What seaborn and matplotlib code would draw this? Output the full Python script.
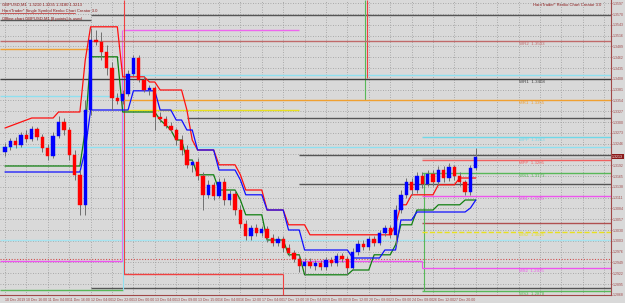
import matplotlib
matplotlib.use("Agg")
import matplotlib.pyplot as plt
import numpy as np
import pandas as pd
import seaborn as sns

sns.set_theme(style="white")
plt.rcParams['font.family'] = ['Liberation Sans', 'DejaVu Sans']

# ---------------- data ----------------
opens = [1.3225,1.3238,1.3253,1.3243,1.3268,1.3258,1.3283,1.3263,1.3235,1.3215,
         1.3265,1.3300,1.3280,1.3218,1.3168,1.3093,1.3330,1.3505,1.3500,1.3475,
         1.3435,1.3360,1.3353,1.3370,1.3420,1.3460,1.3405,1.3380,1.3385,1.3313,
         1.3308,1.3290,1.3280,1.3255,1.3230,1.3193,1.3200,1.3165,1.3118,1.3143,
         1.3115,1.3150,1.3105,1.3120,1.3080,1.3045,1.3015,1.3035,1.3023,1.3033,
         1.3010,1.2998,1.3008,1.2985,1.2973,1.2958,1.2940,1.2950,1.2940,1.2948,
         1.2938,1.2955,1.2948,1.2965,1.2958,1.2935,1.2975,1.2995,1.2988,1.3008,
         1.2998,1.3023,1.3035,1.3018,1.3080,1.3118,1.3150,1.3130,1.3165,1.3145,
         1.3170,1.3150,1.3180,1.3160,1.3188,1.3165,1.3150,1.3125,1.3185]
highs = [1.3248,1.3260,1.3263,1.3275,1.3280,1.3290,1.3288,1.3270,1.3245,1.3275,
         1.3315,1.3310,1.3288,1.3230,1.3180,1.3355,1.3535,1.3530,1.3525,1.3493,
         1.3450,1.3373,1.3380,1.3430,1.3468,1.3468,1.3415,1.3393,1.3390,1.3325,
         1.3315,1.3300,1.3285,1.3268,1.3243,1.3205,1.3210,1.3175,1.3155,1.3150,
         1.3160,1.3160,1.3130,1.3130,1.3093,1.3055,1.3043,1.3045,1.3040,1.3040,
         1.3020,1.3015,1.3015,1.2995,1.2980,1.2968,1.2960,1.2960,1.2955,1.2955,
         1.2963,1.2963,1.2973,1.2973,1.2965,1.2985,1.3005,1.3005,1.3015,1.3015,
         1.3030,1.3043,1.3043,1.3093,1.3130,1.3160,1.3160,1.3175,1.3175,1.3180,
         1.3180,1.3190,1.3190,1.3198,1.3193,1.3175,1.3155,1.3193,1.3235]
lows = [1.3215,1.3230,1.3235,1.3238,1.3250,1.3253,1.3255,1.3225,1.3205,1.3210,
        1.3260,1.3268,1.3205,1.3155,1.3068,1.3068,1.3318,1.3493,1.3455,1.3418,
        1.3330,1.3345,1.3345,1.3365,1.3415,1.3400,1.3375,1.3368,1.3280,1.3300,
        1.3285,1.3275,1.3243,1.3218,1.3185,1.3175,1.3155,1.3080,1.3110,1.3105,
        1.3110,1.3093,1.3093,1.3068,1.3035,1.3005,1.3005,1.3015,1.3015,1.3000,
        1.2990,1.2990,1.2975,1.2965,1.2950,1.2925,1.2918,1.2935,1.2930,1.2930,
        1.2930,1.2940,1.2940,1.2950,1.2918,1.2930,1.2968,1.2980,1.2980,1.2990,
        1.2993,1.3015,1.3010,1.2993,1.3073,1.3110,1.3118,1.3123,1.3135,1.3140,
        1.3140,1.3143,1.3150,1.3153,1.3155,1.3140,1.3118,1.3118,1.3180]
closes = [1.3238,1.3253,1.3243,1.3268,1.3258,1.3283,1.3263,1.3235,1.3215,1.3265,
          1.3300,1.3280,1.3218,1.3168,1.3093,1.3330,1.3505,1.3500,1.3475,1.3435,
          1.3360,1.3353,1.3370,1.3420,1.3460,1.3405,1.3380,1.3385,1.3313,1.3308,
          1.3290,1.3280,1.3255,1.3230,1.3193,1.3200,1.3165,1.3118,1.3143,1.3115,
          1.3150,1.3105,1.3120,1.3080,1.3045,1.3015,1.3035,1.3023,1.3033,1.3010,
          1.2998,1.3008,1.2985,1.2973,1.2958,1.2940,1.2950,1.2940,1.2948,1.2938,
          1.2955,1.2948,1.2965,1.2958,1.2935,1.2975,1.2995,1.2988,1.3008,1.2998,
          1.3023,1.3035,1.3018,1.3080,1.3118,1.3150,1.3130,1.3165,1.3145,1.3170,
          1.3150,1.3180,1.3160,1.3188,1.3165,1.3150,1.3125,1.3185,1.3213]

red_band = [1.3285,1.3290,1.3295,1.3300,1.3305,1.3310,1.3310,1.3310,1.3310,1.3310,
            1.3325,1.3325,1.3325,1.3325,1.3325,1.3455,1.3538,1.3538,1.3538,1.3538,
            1.3538,1.3538,1.3413,1.3413,1.3413,1.3413,1.3413,1.3400,1.3400,1.3380,
            1.3380,1.3380,1.3380,1.3380,1.3330,1.3255,1.3230,1.3230,1.3230,1.3230,
            1.3193,1.3193,1.3193,1.3193,1.3168,1.3130,1.3130,1.3130,1.3130,1.3080,
            1.3080,1.3080,1.3080,1.3043,1.3043,1.3043,1.3043,1.3018,1.3018,1.3018,
            1.3018,1.3018,1.3018,1.3018,1.3018,1.3018,1.3018,1.3018,1.3018,1.3018,
            1.3018,1.3018,1.3018,1.3043,1.3093,1.3093,1.3118,1.3118,1.3118,1.3118,
            1.3118,1.3143,1.3143,1.3143,1.3143,1.3160,1.3160,1.3160,1.3160]
green_band = [1.3190,1.3190,1.3190,1.3190,1.3190,1.3190,1.3190,1.3190,1.3190,1.3190,
              1.3190,1.3190,1.3190,1.3190,1.3190,1.3280,1.3463,1.3463,1.3463,1.3463,
              1.3463,1.3463,1.3325,1.3325,1.3325,1.3325,1.3325,1.3325,1.3325,1.3305,
              1.3293,1.3280,1.3255,1.3255,1.3205,1.3205,1.3168,1.3168,1.3168,1.3168,
              1.3130,1.3130,1.3130,1.3130,1.3105,1.3068,1.3068,1.3068,1.3068,1.3005,
              1.3005,1.3005,1.3005,1.2968,1.2968,1.2968,1.2918,1.2918,1.2918,1.2918,
              1.2918,1.2918,1.2918,1.2918,1.2918,1.2930,1.2930,1.2930,1.2930,1.2968,
              1.2968,1.2968,1.2968,1.2993,1.3043,1.3043,1.3043,1.3080,1.3080,1.3080,
              1.3080,1.3093,1.3093,1.3093,1.3093,1.3093,1.3105,1.3105,1.3105]
blue_band = [1.3175,1.3175,1.3175,1.3175,1.3175,1.3175,1.3175,1.3175,1.3175,1.3175,
             1.3175,1.3175,1.3175,1.3175,1.3175,1.3230,1.3330,1.3330,1.3330,1.3330,
             1.3330,1.3330,1.3330,1.3330,1.3378,1.3378,1.3378,1.3378,1.3378,1.3330,
             1.3330,1.3330,1.3305,1.3305,1.3280,1.3280,1.3230,1.3230,1.3230,1.3230,
             1.3180,1.3180,1.3180,1.3180,1.3155,1.3118,1.3118,1.3118,1.3118,1.3080,
             1.3080,1.3080,1.3080,1.3030,1.3030,1.3030,1.2980,1.2980,1.2980,1.2980,
             1.2980,1.2980,1.2980,1.2980,1.2980,1.2960,1.2960,1.2960,1.2960,1.2960,
             1.2960,1.2980,1.2980,1.2980,1.3055,1.3055,1.3055,1.3075,1.3075,1.3075,
             1.3075,1.3075,1.3075,1.3075,1.3075,1.3075,1.3075,1.3085,1.3105]

date_labels = ["10 Dec 2019","10 Dec 16:00","11 Dec 04:00","11 Dec 16:00","12 Dec 04:00",
               "12 Dec 22:00","13 Dec 00:00","13 Dec 04:00","13 Dec 09:00","13 Dec 15:00",
               "16 Dec 04:00","16 Dec 12:00","17 Dec 04:00","17 Dec 12:00","18 Dec 04:00",
               "19 Dec 00:00","19 Dec 12:00","20 Dec 08:00","23 Dec 08:00","24 Dec 08:00",
               "26 Dec 12:00","27 Dec 20:00"]
price_ticks = [1.3597 - 0.0027 * k for k in range(28)]

# labelled pivot levels of the current period
pivot_names = ["WR2","WR1","MR1","WPP","MPP","WS1","MS1","WS2","MS2","WS3"]
pivot_values = [1.3503,1.3408,1.3355,1.3263,1.3205,1.3173,1.3115,1.3025,1.2935,1.2878]
pivot_colors = ["#c06a6a","#404040","#f0a030","#6fd8e8","#f06060","#58b858",
                "#ee55ee","#e8e020","#ee55ee","#58b858"]
pivot_starts = [-1, -1, 22, 78, 78, 78, 78, 78, 78, 78]
pivot_styles = ["-","-","-","-","-","-","-","--","-","-"]

# earlier-period levels: price, first bar, last bar, colour
old_prices = [1.3555, 1.3568, 1.3530, 1.2953, 1.2953, 1.2880, 1.3365, 1.3418, 1.3483,
              1.2920, 1.3310, 1.3218, 1.3145, 1.2885, 1.3330, 1.3048, 1.3005, 1.3238,
              1.3210]
old_starts = [-1, 16, 22, -1, 55, -1, -1, 22, -1, 22, 34, 55, 55, 16, 22, 78, -1, -1, 78]
old_ends = [16, 114, 55, 22, 78, 22, 22, 114, 16, 52, 114, 114, 114, 114, 55, 114, 114, 114, 114]
old_colors = ["#555555", "#555555", "#ee66ee", "#ee55ee", "#ee55ee", "#58b858", "#8fe0f0",
              "#8fe0f0", "#f0a030", "#f04040", "#555555", "#555555", "#555555", "#555555",
              "#e8e020", "#b05050", "#a8e4f0", "#8fe0f0", "#c4c4c4"]
dotted_red = 1.2958

last_price = 1.3213

# ---------------- figure ----------------
BG = "#d9d9d9"
fig = plt.figure(figsize=(6.25, 3.03), dpi=100)
fig.patch.set_facecolor(BG)
ax = fig.add_axes([0, 8/303, 611/625, 295/303])
ax.set_facecolor(BG)

n = len(opens)
idx = np.arange(n)
X0, X1 = -0.935, 113.27
ax.set_xlim(X0, X1)
ax.set_ylim(1.28675, 1.3605)

# grid
for t in price_ticks:
    ax.axhline(t, color="#9a9a9a", lw=0.6, ls=(0, (1, 2)), zorder=0)
for gx in range(0, 113, 4):
    ax.axvline(gx, color="#9a9a9a", lw=0.6, ls=(0, (1, 2)), zorder=0)

# earlier-period levels
for p, s, e, col in zip(old_prices, old_starts, old_ends, old_colors):
    ax.hlines(p, max(s, X0), min(e, X1), color=col, lw=1.0, zorder=1)
ax.axhline(dotted_red, color="#d05050", lw=0.8, ls=(0, (1, 1.5)), zorder=1)

# period-change verticals
ax.vlines(21.9, 1.2953, 1.3530, color="#ee66ee", lw=0.8, zorder=1)
ax.vlines(22.1, 1.2880, 1.3418, color="#8fe0f0", lw=0.8, zorder=1)
ax.vlines(22.3, 1.2920, 1.3605, color="#f04040", lw=0.8, zorder=1)
ax.vlines(52, 1.28675, 1.2920, color="#f04040", lw=0.8, zorder=1)
ax.vlines(67.2, 1.3355, 1.3605, color="#58b858", lw=0.8, zorder=1)
ax.vlines(67.6, 1.3410, 1.3605, color="#f04040", lw=0.8, zorder=1)
ax.vlines(78.3, 1.2878, 1.3173, color="#58b858", lw=0.8, zorder=1)
ax.vlines(78.0, 1.2935, 1.2953, color="#ee55ee", lw=0.8, zorder=1)

# labelled pivots
for name, v, c, s, st in zip(pivot_names, pivot_values, pivot_colors, pivot_styles, pivot_starts):
    ax.hlines(v, max(st, X0), X1, color=c, lw=1.0, ls=s, zorder=1)
    ax.text(96.0, v - 0.0002, f"{name}  {v:.4f}", color=c, fontsize=3.2,
            ha="left", va="top", zorder=5)

# indicator lines
bands = pd.DataFrame({"bar": np.concatenate([idx, idx, idx]),
                      "price": np.concatenate([red_band, green_band, blue_band]),
                      "band": ["red"] * n + ["green"] * n + ["blue"] * n})
sns.lineplot(data=bands, x="bar", y="price", hue="band",
             palette={"red": "#ff1010", "green": "#108010", "blue": "#1010ff"},
             linewidth=0.9, legend=False, ax=ax, zorder=3)

# candles
o = np.array(opens); c = np.array(closes)
up = c >= o
ax.vlines(idx, lows, highs, color="#707070", lw=0.7, zorder=4)
ax.bar(idx[up], (c - o)[up], bottom=o[up], width=0.62, color="#0000ff",
       edgecolor="#0000ff", linewidth=0.3, zorder=5)
ax.bar(idx[~up], (o - c)[~up], bottom=c[~up], width=0.62, color="#ff0000",
       edgecolor="#ff0000", linewidth=0.3, zorder=5)

# axes
ax.set_xlabel(""); ax.set_ylabel("")
ax.yaxis.tick_right()
ax.set_yticks(price_ticks)
ylabels = [f"{t:.4f}" if abs(t - last_price) > 0.0012 else "" for t in price_ticks]
ax.set_yticklabels(ylabels, fontsize=2.5, color="#a04848")
ax.set_xticks(range(0, 4 * len(date_labels), 4))
ax.set_xticklabels(date_labels, fontsize=2.5, color="#a04848", ha="left")
ax.tick_params(axis="y", length=1.0, width=0.5, color="#a04848", pad=0.5)
ax.tick_params(axis="x", length=1.5, width=0.5, color="#a04848", pad=0.8)
for side in ["top", "left"]:
    ax.spines[side].set_visible(False)
for side in ["right", "bottom"]:
    ax.spines[side].set_color("#a04848")
    ax.spines[side].set_linewidth(0.8)

ax.text(113.5, last_price, f"{last_price:.4f}", fontsize=2.5, color="white",
        ha="left", va="center", bbox=dict(boxstyle="square,pad=0.2", fc="#8b1a1a", ec="none"),
        clip_on=False, zorder=6)

fig.text(0.004, 0.99, "GBPUSD,M1  1.3210 1.3235 1.3180 1.3213", fontsize=3.0, color="#8b1a1a", va="top")
fig.text(0.004, 0.97, "HarriTrader* Single Symbol Renko Chart Creator 3.0", fontsize=3.0, color="#8b1a1a", va="top")
fig.add_artist(plt.Line2D([0.0, 0.12], [0.957, 0.957], color="#c04040", lw=0.6))
fig.text(0.004, 0.945, "Offline chart GBPUSD,M1 [8 points] is used", fontsize=3.0, color="#8b1a1a", va="top")
fig.text(0.962, 0.99, "HarriTrader* Renko Chart Creator 3.0", fontsize=3.0, color="#8b1a1a", va="top", ha="right")

fig.savefig("out.png", dpi=100, facecolor=BG)
